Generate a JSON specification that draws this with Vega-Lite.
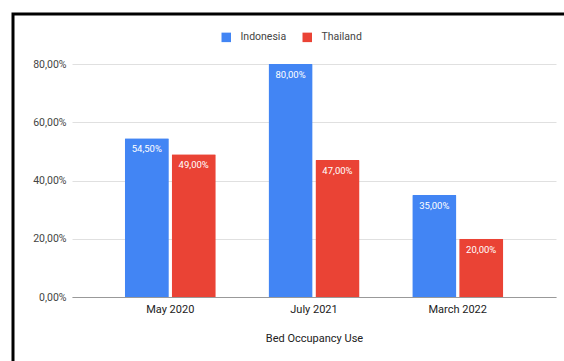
{
  "$schema": "https://vega.github.io/schema/vega-lite/v6.json",
  "width": 484,
  "height": 233,
  "autosize": {"type": "none"},
  "padding": {"left": 72, "top": 64, "right": 8, "bottom": 64},
  "background": "white",
  "config": {
    "locale": {"number": {"decimal": ",", "thousands": ".", "grouping": [3], "currency": ["", "€"]}},
    "font": "Roboto",
    "view": {"stroke": null},
    "axis": {"labelFont": "Roboto", "titleFont": "Roboto"},
    "legend": {"labelFont": "Roboto"}
  },
  "data": {
    "values": [
      {"Category": "May 2020", "Country": "Indonesia", "Value": 0.545},
      {"Category": "May 2020", "Country": "Thailand", "Value": 0.49},
      {"Category": "July 2021", "Country": "Indonesia", "Value": 0.80},
      {"Category": "July 2021", "Country": "Thailand", "Value": 0.47},
      {"Category": "March 2022", "Country": "Indonesia", "Value": 0.35},
      {"Category": "March 2022", "Country": "Thailand", "Value": 0.20}
    ]
  },
  "encoding": {
    "x": {
      "field": "Category", "type": "nominal", "sort": null,
      "scale": {"paddingInner": 0.367, "paddingOuter": 0.367},
      "axis": {
        "title": "Bed Occupancy Use", "labelAngle": 0, "labelFontSize": 11, "labelColor": "#222222",
        "labelPadding": 6, "ticks": false, "domainColor": "#999999", "domainWidth": 1,
        "titleFontSize": 11, "titleFontWeight": "normal", "titleColor": "#222222", "titlePadding": 18
      }
    },
    "xOffset": {"field": "Country", "type": "nominal", "scale": {"paddingInner": 0.06, "paddingOuter": 0}},
    "y": {
      "field": "Value", "type": "quantitative",
      "scale": {"domain": [0, 0.8], "nice": false},
      "axis": {
        "title": null, "format": ".2%", "values": [0, 0.2, 0.4, 0.6, 0.8],
        "domain": false, "ticks": false, "labelFontSize": 10.5, "labelColor": "#444444",
        "labelPadding": 6, "gridColor": "#e0e0e0", "gridWidth": 1
      }
    }
  },
  "layer": [
    {
      "mark": {"type": "bar", "cornerRadiusTopLeft": 1, "cornerRadiusTopRight": 1},
      "encoding": {
        "color": {
          "field": "Country", "type": "nominal",
          "scale": {"domain": ["Indonesia", "Thailand"], "range": ["#4285F4", "#EA4335"]},
          "legend": {
            "title": null, "orient": "none", "direction": "horizontal", "legendX": 149, "legendY": -32,
            "symbolType": "square", "symbolSize": 90, "symbolStrokeWidth": 0, "labelFontSize": 10.5,
            "labelColor": "#444444", "labelOffset": 9, "columnPadding": 15
          }
        }
      }
    },
    {
      "mark": {"type": "text", "color": "white", "fontSize": 9.5, "baseline": "middle", "dy": 11},
      "encoding": {
        "text": {"field": "Value", "type": "quantitative", "format": ".2%"}
      }
    },
    {
      "mark": {"type": "point", "filled": false, "color": "black", "opacity": 0, "strokeWidth": 3, "shape": "square"},
      "encoding": {
        "size": {
          "field": "Category", "type": "ordinal",
          "scale": {"range": [490000, 490000]},
          "legend": {
            "title": null, "orient": "none", "legendX": -60.5, "legendY": -51.5,
            "padding": 0, "values": ["May 2020"], "labelExpr": "''", "labelOffset": 0,
            "symbolType": "square", "symbolOffset": 0,
            "symbolStrokeColor": "black", "symbolStrokeWidth": 3
          }
        }
      }
    }
  ]
}
